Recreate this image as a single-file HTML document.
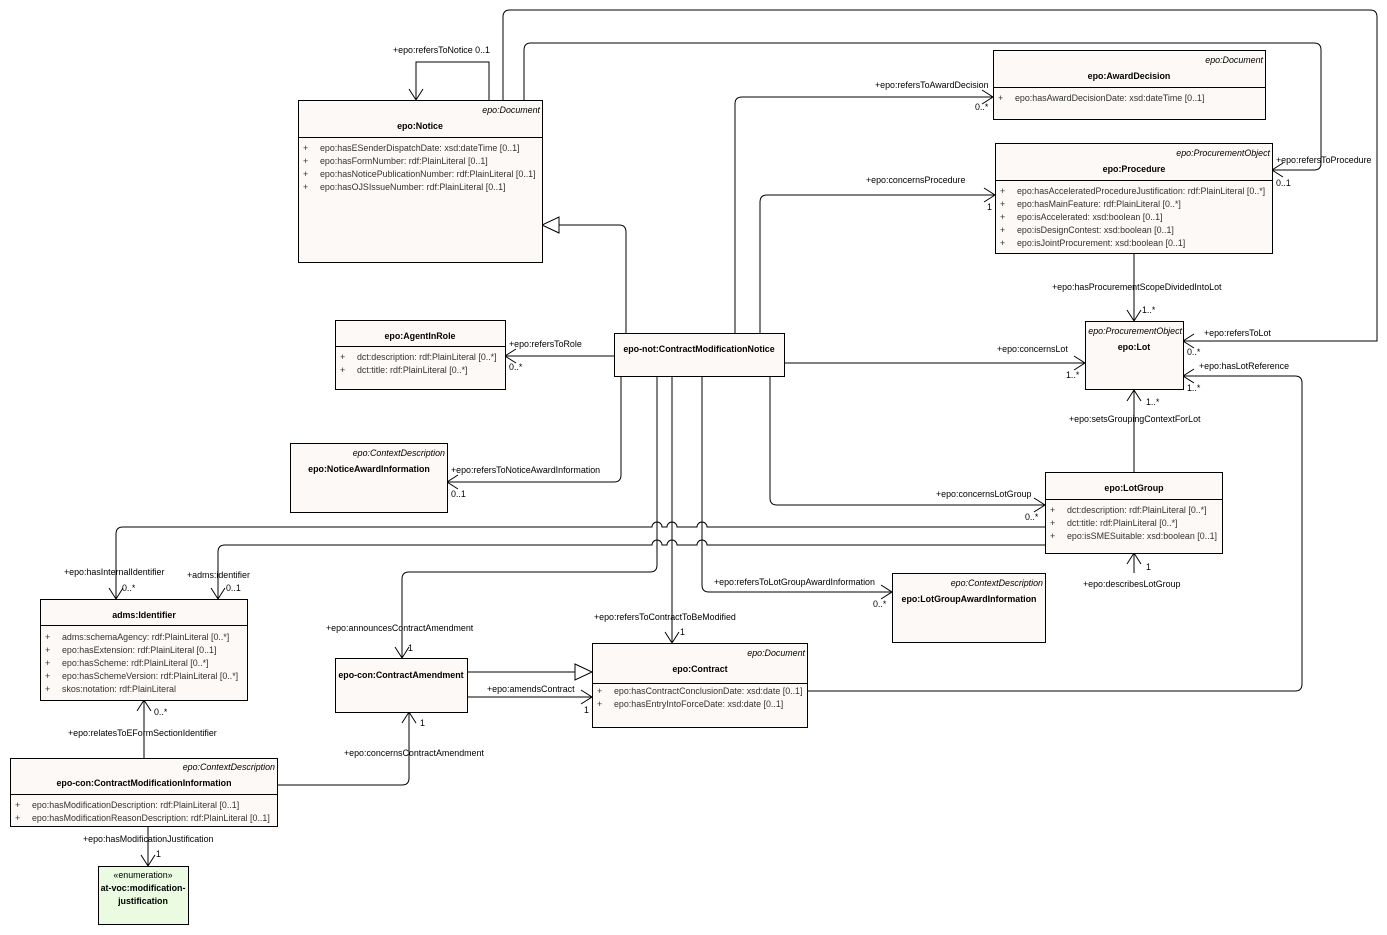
<!DOCTYPE html>
<html><head><meta charset="utf-8"><style>
html,body{margin:0;padding:0;background:#fff;}
svg{display:block;font-family:"Liberation Sans",sans-serif;font-size:8.9px;fill:#000;}
.b{fill:#fdf9f6;stroke:#000;stroke-width:1;}
.g{fill:#eafbe2;stroke:#000;stroke-width:1;}
.l{fill:none;stroke:#000;stroke-width:1;}
.n{font-weight:bold;text-anchor:middle;}
.s{font-style:italic;text-anchor:end;}
.a{fill:#333;}
</style></head><body>
<svg width="1387" height="935" viewBox="0 0 1387 935" xmlns="http://www.w3.org/2000/svg">
<defs>
<marker id="ar" markerUnits="userSpaceOnUse" markerWidth="24" markerHeight="24" refX="12" refY="12" orient="auto"><path d="M1,5 L12,12 L1,19" fill="none" stroke="#000" stroke-width="1"/></marker>
<marker id="tr" markerUnits="userSpaceOnUse" markerWidth="24" markerHeight="24" refX="18" refY="12" orient="auto"><path d="M1,4 L18,12 L1,20 Z" fill="#fff" stroke="#000" stroke-width="1"/></marker>
</defs>

<polyline class="l" points="489,100 489,62 416,62 416,100" marker-end="url(#ar)"/>
<path class="l" d="M503,100 V17 Q503,10 510,10 H1370 Q1377,10 1377,17 V341 H1183" marker-end="url(#ar)"/>
<path class="l" d="M524,100 V50 Q524,43 531,43 H1314 Q1321,43 1321,50 V163 Q1321,170 1314,170 H1272" marker-end="url(#ar)"/>
<path class="l" d="M735,333 V104 Q735,97 742,97 H993" marker-end="url(#ar)"/>
<path class="l" d="M760,333 V202 Q760,195 767,195 H995" marker-end="url(#ar)"/>
<path class="l" d="M626,333 V232 Q626,225 619,225 H542" marker-end="url(#tr)"/>
<polyline class="l" points="614,356 505,356" marker-end="url(#ar)"/>
<polyline class="l" points="784,363 1085,363" marker-end="url(#ar)"/>
<polyline class="l" points="1134,253 1134,321" marker-end="url(#ar)"/>
<polyline class="l" points="1134,472 1134,390" marker-end="url(#ar)"/>
<path class="l" d="M621,376 V475 Q621,482 614,482 H447" marker-end="url(#ar)"/>
<path class="l" d="M770,376 V498 Q770,505 777,505 H1045" marker-end="url(#ar)"/>
<path class="l" d="M1045,527 H707 A5,5 0 0 0 697,527 H677 A5,5 0 0 0 667,527 H662 A5,5 0 0 0 652,527 H123 Q116,527 116,534 V599" marker-end="url(#ar)"/>
<path class="l" d="M1045,545 H707 A5,5 0 0 0 697,545 H677 A5,5 0 0 0 667,545 H662 A5,5 0 0 0 652,545 H225 Q218,545 218,552 V599" marker-end="url(#ar)"/>
<path class="l" d="M657,376 V565 Q657,572 650,572 H409 Q402,572 402,579 V658" marker-end="url(#ar)"/>
<polyline class="l" points="672,376 672,643" marker-end="url(#ar)"/>
<path class="l" d="M702,376 V585 Q702,592 709,592 H892" marker-end="url(#ar)"/>
<polyline class="l" points="1134,573 1134,553" marker-end="url(#ar)"/>
<path class="l" d="M807,691 H1295 Q1302,691 1302,684 V383 Q1302,376 1295,376 H1183" marker-end="url(#ar)"/>
<polyline class="l" points="467,672 592,672" marker-end="url(#tr)"/>
<polyline class="l" points="467,697 592,697" marker-end="url(#ar)"/>
<path class="l" d="M277,785 H402 Q409,785 409,778 V712" marker-end="url(#ar)"/>
<polyline class="l" points="144,758 144,700" marker-end="url(#ar)"/>
<polyline class="l" points="148,826 148,866" marker-end="url(#ar)"/>

<rect class="b" x="298.5" y="100.5" width="244" height="162"/>
<line class="l" x1="298.5" y1="137.5" x2="542.5" y2="137.5"/>
<text class="s" x="540" y="113">epo:Document</text>
<text class="n" x="420" y="129">epo:Notice</text>
<g class="a"><text x="303" y="151">+</text><text x="320" y="151">epo:hasESenderDispatchDate: xsd:dateTime [0..1]</text>
<text x="303" y="164">+</text><text x="320" y="164">epo:hasFormNumber: rdf:PlainLiteral [0..1]</text>
<text x="303" y="177">+</text><text x="320" y="177">epo:hasNoticePublicationNumber: rdf:PlainLiteral [0..1]</text>
<text x="303" y="190">+</text><text x="320" y="190">epo:hasOJSIssueNumber: rdf:PlainLiteral [0..1]</text></g>

<rect class="b" x="993.5" y="50.5" width="272" height="69"/>
<line class="l" x1="993.5" y1="87.5" x2="1265.5" y2="87.5"/>
<text class="s" x="1263" y="63">epo:Document</text>
<text class="n" x="1129" y="79">epo:AwardDecision</text>
<g class="a"><text x="998" y="101">+</text><text x="1015" y="101">epo:hasAwardDecisionDate: xsd:dateTime [0..1]</text></g>

<rect class="b" x="995.5" y="143.5" width="277" height="110"/>
<line class="l" x1="995.5" y1="180.5" x2="1272.5" y2="180.5"/>
<text class="s" x="1270" y="156">epo:ProcurementObject</text>
<text class="n" x="1134" y="172">epo:Procedure</text>
<g class="a"><text x="1000" y="194">+</text><text x="1017" y="194">epo:hasAcceleratedProcedureJustification: rdf:PlainLiteral [0..*]</text>
<text x="1000" y="207">+</text><text x="1017" y="207">epo:hasMainFeature: rdf:PlainLiteral [0..*]</text>
<text x="1000" y="220">+</text><text x="1017" y="220">epo:isAccelerated: xsd:boolean [0..1]</text>
<text x="1000" y="233">+</text><text x="1017" y="233">epo:isDesignContest: xsd:boolean [0..1]</text>
<text x="1000" y="246">+</text><text x="1017" y="246">epo:isJointProcurement: xsd:boolean [0..1]</text></g>

<rect class="b" x="335.5" y="320.5" width="170" height="69"/>
<line class="l" x1="335.5" y1="346.5" x2="505.5" y2="346.5"/>
<text class="n" x="420" y="339">epo:AgentInRole</text>
<g class="a"><text x="340" y="360">+</text><text x="357" y="360">dct:description: rdf:PlainLiteral [0..*]</text>
<text x="340" y="373">+</text><text x="357" y="373">dct:title: rdf:PlainLiteral [0..*]</text></g>

<rect class="b" x="614.5" y="333.5" width="170" height="43"/>
<text class="n" x="699" y="352">epo-not:ContractModificationNotice</text>

<rect class="b" x="1085.5" y="321.5" width="98" height="68"/>
<text class="s" x="1182" y="334">epo:ProcurementObject</text>
<text class="n" x="1134" y="350">epo:Lot</text>

<rect class="b" x="290.5" y="443.5" width="157" height="69"/>
<text class="s" x="445" y="456">epo:ContextDescription</text>
<text class="n" x="369" y="472">epo:NoticeAwardInformation</text>

<rect class="b" x="1045.5" y="472.5" width="177" height="81"/>
<line class="l" x1="1045.5" y1="499.5" x2="1222.5" y2="499.5"/>
<text class="n" x="1134" y="491">epo:LotGroup</text>
<g class="a"><text x="1050" y="513">+</text><text x="1067" y="513">dct:description: rdf:PlainLiteral [0..*]</text>
<text x="1050" y="526">+</text><text x="1067" y="526">dct:title: rdf:PlainLiteral [0..*]</text>
<text x="1050" y="539">+</text><text x="1067" y="539">epo:isSMESuitable: xsd:boolean [0..1]</text></g>

<rect class="b" x="892.5" y="573.5" width="153" height="69"/>
<text class="s" x="1043" y="586">epo:ContextDescription</text>
<text class="n" x="969" y="602">epo:LotGroupAwardInformation</text>

<rect class="b" x="40.5" y="599.5" width="207" height="101"/>
<line class="l" x1="40.5" y1="625.5" x2="247.5" y2="625.5"/>
<text class="n" x="144" y="618">adms:Identifier</text>
<g class="a"><text x="45" y="640">+</text><text x="62" y="640">adms:schemaAgency: rdf:PlainLiteral [0..*]</text>
<text x="45" y="653">+</text><text x="62" y="653">epo:hasExtension: rdf:PlainLiteral [0..1]</text>
<text x="45" y="666">+</text><text x="62" y="666">epo:hasScheme: rdf:PlainLiteral [0..*]</text>
<text x="45" y="679">+</text><text x="62" y="679">epo:hasSchemeVersion: rdf:PlainLiteral [0..*]</text>
<text x="45" y="692">+</text><text x="62" y="692">skos:notation: rdf:PlainLiteral</text></g>

<rect class="b" x="335.5" y="658.5" width="132" height="54"/>
<text class="n" x="401" y="678">epo-con:ContractAmendment</text>

<rect class="b" x="592.5" y="643.5" width="215" height="84"/>
<line class="l" x1="592.5" y1="683.5" x2="807.5" y2="683.5"/>
<text class="s" x="805" y="656">epo:Document</text>
<text class="n" x="700" y="672">epo:Contract</text>
<g class="a"><text x="597" y="694">+</text><text x="614" y="694">epo:hasContractConclusionDate: xsd:date [0..1]</text>
<text x="597" y="707">+</text><text x="614" y="707">epo:hasEntryIntoForceDate: xsd:date [0..1]</text></g>

<rect class="b" x="10.5" y="758.5" width="267" height="68"/>
<line class="l" x1="10.5" y1="794.5" x2="277.5" y2="794.5"/>
<text class="s" x="275" y="770">epo:ContextDescription</text>
<text class="n" x="144" y="786">epo-con:ContractModificationInformation</text>
<g class="a"><text x="15" y="808">+</text><text x="32" y="808">epo:hasModificationDescription: rdf:PlainLiteral [0..1]</text>
<text x="15" y="821">+</text><text x="32" y="821">epo:hasModificationReasonDescription: rdf:PlainLiteral [0..1]</text></g>

<rect class="g" x="98.5" y="866.5" width="90" height="58"/>
<text x="143" y="878" text-anchor="middle">«enumeration»</text>
<text class="n" x="143" y="891">at-voc:modification-</text>
<text class="n" x="143" y="904">justification</text>

<text x="393" y="53">+epo:refersToNotice 0..1</text>
<text x="875" y="88">+epo:refersToAwardDecision</text>
<text x="975" y="110">0..*</text>
<text x="866" y="183">+epo:concernsProcedure</text>
<text x="987" y="210">1</text>
<text x="1276" y="163">+epo:refersToProcedure</text>
<text x="1276" y="186">0..1</text>
<text x="1052" y="290">+epo:hasProcurementScopeDividedIntoLot</text>
<text x="1142" y="313">1..*</text>
<text x="1204" y="336">+epo:refersToLot</text>
<text x="1187" y="355">0..*</text>
<text x="509" y="347">+epo:refersToRole</text>
<text x="509" y="370">0..*</text>
<text x="997" y="352">+epo:concernsLot</text>
<text x="1066" y="378">1..*</text>
<text x="1199" y="369">+epo:hasLotReference</text>
<text x="1187" y="391">1..*</text>
<text x="1146" y="405">1..*</text>
<text x="1069" y="422">+epo:setsGroupingContextForLot</text>
<text x="451" y="473">+epo:refersToNoticeAwardInformation</text>
<text x="451" y="497">0..1</text>
<text x="936" y="497">+epo:concernsLotGroup</text>
<text x="1025" y="520">0..*</text>
<text x="64" y="575">+epo:hasInternalIdentifier</text>
<text x="122" y="591">0..*</text>
<text x="187" y="578">+adms:identifier</text>
<text x="226" y="591">0..1</text>
<text x="714" y="585">+epo:refersToLotGroupAwardInformation</text>
<text x="873" y="607">0..*</text>
<text x="1146" y="570">1</text>
<text x="1083" y="587">+epo:describesLotGroup</text>
<text x="594" y="620">+epo:refersToContractToBeModified</text>
<text x="680" y="635">1</text>
<text x="326" y="631">+epo:announcesContractAmendment</text>
<text x="408" y="651">1</text>
<text x="487" y="692">+epo:amendsContract</text>
<text x="584" y="713">1</text>
<text x="154" y="715">0..*</text>
<text x="68" y="736">+epo:relatesToEFormSectionIdentifier</text>
<text x="420" y="726">1</text>
<text x="344" y="756">+epo:concernsContractAmendment</text>
<text x="83" y="842">+epo:hasModificationJustification</text>
<text x="156" y="857">1</text>
</svg>
</body></html>
